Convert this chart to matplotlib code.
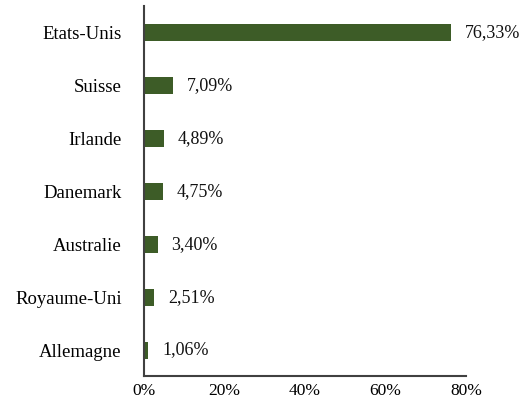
import matplotlib
matplotlib.use("Agg")
import matplotlib.pyplot as plt
from matplotlib.ticker import FuncFormatter

countries = ["Etats-Unis", "Suisse", "Irlande", "Danemark", "Australie", "Royaume-Uni", "Allemagne"]
shares = [76.33, 7.09, 4.89, 4.75, 3.40, 2.51, 1.06]
share_labels = ["76,33%", "7,09%", "4,89%", "4,75%", "3,40%", "2,51%", "1,06%"]
xticks = [0, 20, 40, 60, 80]

plt.rcParams['font.family'] = ['Liberation Serif', 'DejaVu Serif']

fig = plt.figure(figsize=(5.21, 4.05), dpi=100)
ax = fig.add_axes([0.2764, 0.0704, 0.618, 0.9136])

y = list(range(len(countries)))[::-1]
bars = ax.barh(y, shares, height=0.32, color='#3d5c27')
for b, lab in zip(bars, share_labels):
    ax.annotate(lab, (b.get_width(), b.get_y() + b.get_height() / 2),
                xytext=(10, 0), textcoords='offset points',
                va='center', ha='left', fontsize=13, color='#111111')

ax.set_yticks(y)
ax.set_yticklabels(countries, fontsize=13.5)
ax.set_xticks(xticks)
ax.xaxis.set_major_formatter(FuncFormatter(lambda v, p: f"{v:.0f}%"))
# reference clips these at the bottom edge; keep them just inside the canvas
ax.tick_params(axis='x', labelsize=12.5, length=0, pad=5)
ax.tick_params(axis='y', length=0, pad=16)
ax.set_xlim(0, 80)
ax.set_ylim(-0.5, len(countries) - 0.5)

for s in ['top', 'right']:
    ax.spines[s].set_visible(False)
for s in ['left', 'bottom']:
    ax.spines[s].set_color('#404040')
    ax.spines[s].set_linewidth(1.5)

fig.savefig("out.png", dpi=100)
